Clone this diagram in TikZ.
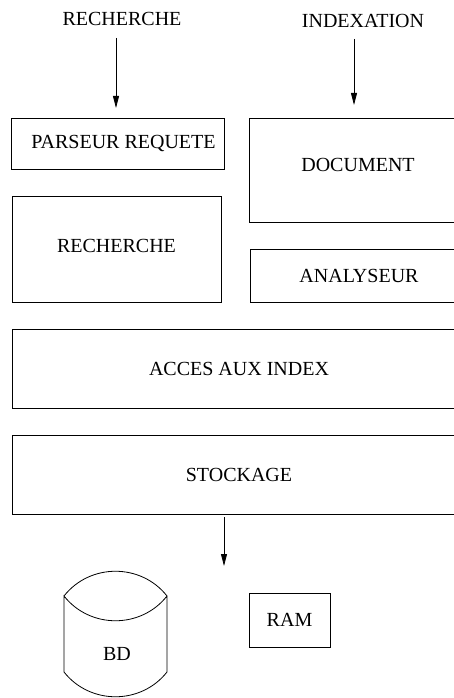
\documentclass[tikz,border=0pt]{standalone}
\usepackage{fontspec}
\setmainfont{Liberation Serif}
\usetikzlibrary{arrows.meta,positioning}
\tikzset{boite/.style={draw, line width=0.8pt, inner sep=0pt},
  fleche/.style={-{Triangle[length=12pt,width=6pt]}, line width=0.8pt}}

\begin{document}
\begin{tikzpicture}[x=1pt,y=-1pt,font=\fontsize{20}{24}\selectfont]
\useasboundingbox (0,0) rectangle (454,698);
\begin{scope}
% entrees
\node (lblrech) at (122,19) {RECHERCHE};
\node (lblindex) at (363,21) {INDEXATION};
\coordinate (rechhaut) at (116,38);
\coordinate (rechbas) at (116,108);
\coordinate (indexhaut) at (354,39);
\coordinate (indexbas) at (354,105);
\draw[fleche] (rechhaut) -- (rechbas);
\draw[fleche] (indexhaut) -- (indexbas);
% modules
\node[boite, minimum width=213pt, minimum height=51pt] (parseur) at (117.5,143.5) {\hspace{12pt}PARSEUR REQUETE};
\node[boite, minimum width=209pt, minimum height=106pt] (recherche) at (116.5,249) {\raisebox{6pt}{RECHERCHE}};
\node[boite, minimum width=218pt, minimum height=104pt] (document) at (358,170) {\raisebox{10pt}{DOCUMENT}};
\node[boite, minimum width=218pt, minimum height=53pt] (analyseur) at (359,275.5) {ANALYSEUR};
\node[boite, minimum width=454pt, minimum height=79pt] (acces) at (239,368.5) {ACCES AUX INDEX};
\node[boite, minimum width=454pt, minimum height=79pt] (stockage) at (239,474.5) {STOCKAGE};
\coordinate (stockhaut) at (224,517);
\coordinate (stockbas) at (224,566);
\draw[fleche] (stockhaut) -- (stockbas);
% supports
\node[boite, minimum width=81pt, minimum height=54pt] (ram) at (289.5,620) {RAM};
\draw[line width=0.8pt] (64,596) .. controls (90,563) and (141,563) .. (167,596)
  .. controls (141,629) and (90,629) .. (64,596) -- (64,672)
  .. controls (90,705) and (141,705) .. (167,672) -- (167,596);
\node (bd) at (117,654) {BD};
\end{scope}
\end{tikzpicture}
\end{document}
